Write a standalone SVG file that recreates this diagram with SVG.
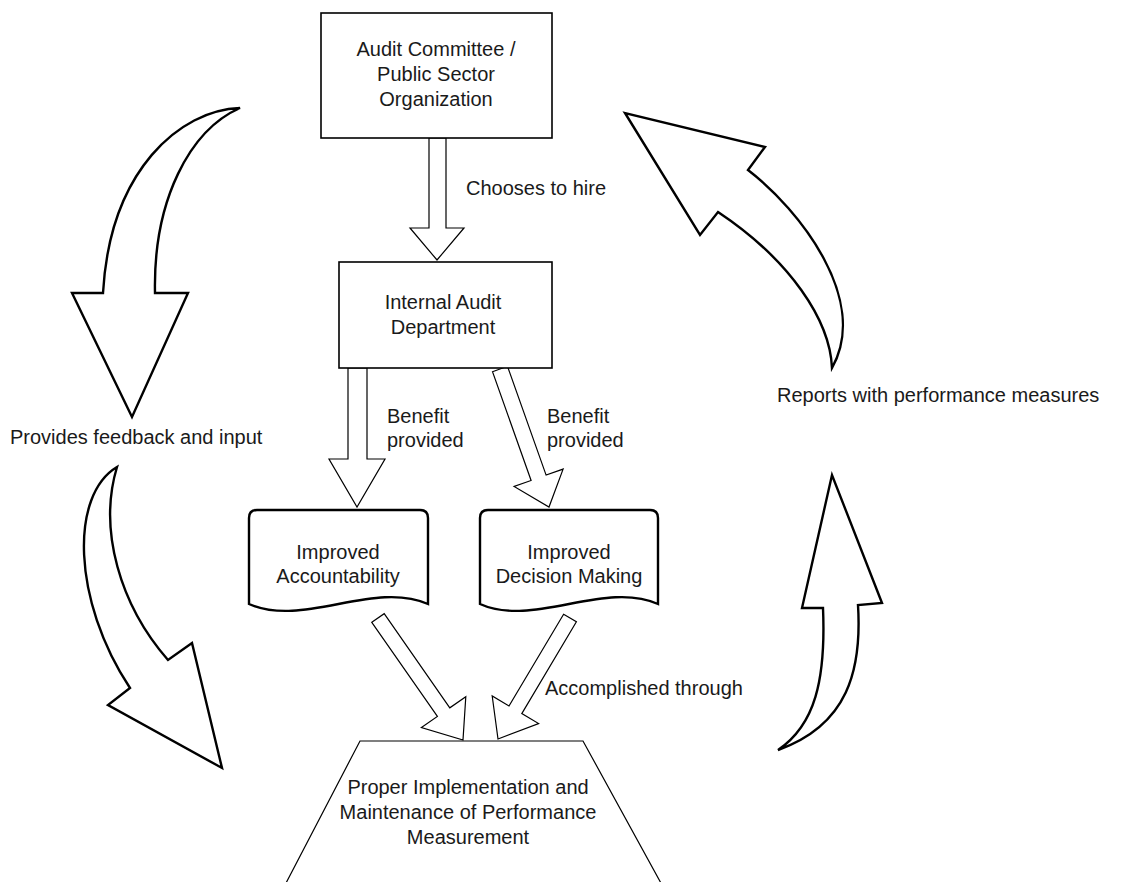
<svg xmlns="http://www.w3.org/2000/svg" width="1123" height="882" viewBox="0 0 1123 882">
<style>
text{font-family:"Liberation Sans",Arial,Helvetica,sans-serif;font-size:20px;fill:#1a1a1a}
.c{text-anchor:middle}
.box{fill:#fff;stroke:#000;stroke-width:1.6}
.doc{fill:#fff;stroke:#000;stroke-width:2.4}
.trap{fill:#fff;stroke:#000;stroke-width:1.2}
.blk{fill:#fff;stroke:#000;stroke-width:1.2;stroke-linejoin:miter}
.curv{fill:#fff;stroke:#000;stroke-width:2.4;stroke-linejoin:miter}
</style>
<rect width="1123" height="882" fill="#fff"/>
<g id="connectors">
<polygon class="blk" points="429,138 446,138 446,228 464,228 437,260 410,228 429,228"/>
<text x="466" y="195">Chooses to hire</text>
<polygon class="blk" points="348,368 367,368 367,459 385,459 357,507 329,459 348,459"/>
<text x="387" y="423">Benefit</text>
<text x="387" y="447">provided</text>
<polygon class="blk" points="492.5,371.7 507.5,366.3 546.1,475.1 563.1,469.1 549,507 514.1,486.5 531.1,480.5"/>
<text x="547" y="423">Benefit</text>
<text x="547" y="447">provided</text>
<polygon class="blk" points="371.8,622.3 384.2,613.7 449.8,707.8 465.8,696.7 463,740 421.4,727.5 437.4,716.4"/>
<polygon class="blk" points="563.6,614.2 576.4,621.8 521.8,713.6 538.6,723.6 498,739 492.2,696 509,706"/>
<text x="545" y="695">Accomplished through</text>
<path class="curv" d="M240,108 C180,110 110,170 103,293 L72,293 L132,417 L188,293 L155,293 C153,200 190,130 240,108 Z"/>
<text x="10" y="444">Provides feedback and input</text>
<path class="curv" d="M117,467 C70,495 72,600 130,688 L108,705 L222,768 L192,643 L168,660 C120,605 98,530 117,467 Z"/>
<path class="curv" d="M832,368 C870,300 800,210 748,170 L765,147 L625,113 L700,235 L718,212 C790,260 830,320 832,368 Z"/>
<text x="777" y="402">Reports with performance measures</text>
<path class="curv" d="M778,750 C848,725 862,670 858,605 L882,603 L832,475 L802,608 L823,608 C826,680 815,725 778,750 Z"/>
</g>
<g id="audit-committee">
<rect class="box" x="321" y="13" width="231" height="125"/>
<text class="c" x="436" y="56">Audit Committee /</text>
<text class="c" x="436" y="81">Public Sector</text>
<text class="c" x="436" y="106">Organization</text>
</g>
<g id="internal-audit">
<rect class="box" x="339" y="262" width="213" height="106"/>
<text class="c" x="443" y="309">Internal Audit</text>
<text class="c" x="443" y="334">Department</text>
</g>
<g id="improved-accountability">
<path class="doc" d="M249,518 Q249,510 257,510 L420,510 Q428,510 428,518 L428,604 C374,580 303,628 249,604 Z"/>
<text class="c" x="338" y="559">Improved</text>
<text class="c" x="338" y="583">Accountability</text>
</g>
<g id="improved-decision">
<path class="doc" d="M480,518 Q480,510 488,510 L650,510 Q658,510 658,518 L658,604 C605,580 533,628 480,604 Z"/>
<text class="c" x="569" y="559">Improved</text>
<text class="c" x="569" y="583">Decision Making</text>
</g>
<g id="performance-measurement">
<polygon class="trap" points="360,741 583,741 662,885 285,885"/>
<text class="c" x="468" y="794">Proper Implementation and</text>
<text class="c" x="468" y="819">Maintenance of Performance</text>
<text class="c" x="468" y="844">Measurement</text>
</g>
</svg>
